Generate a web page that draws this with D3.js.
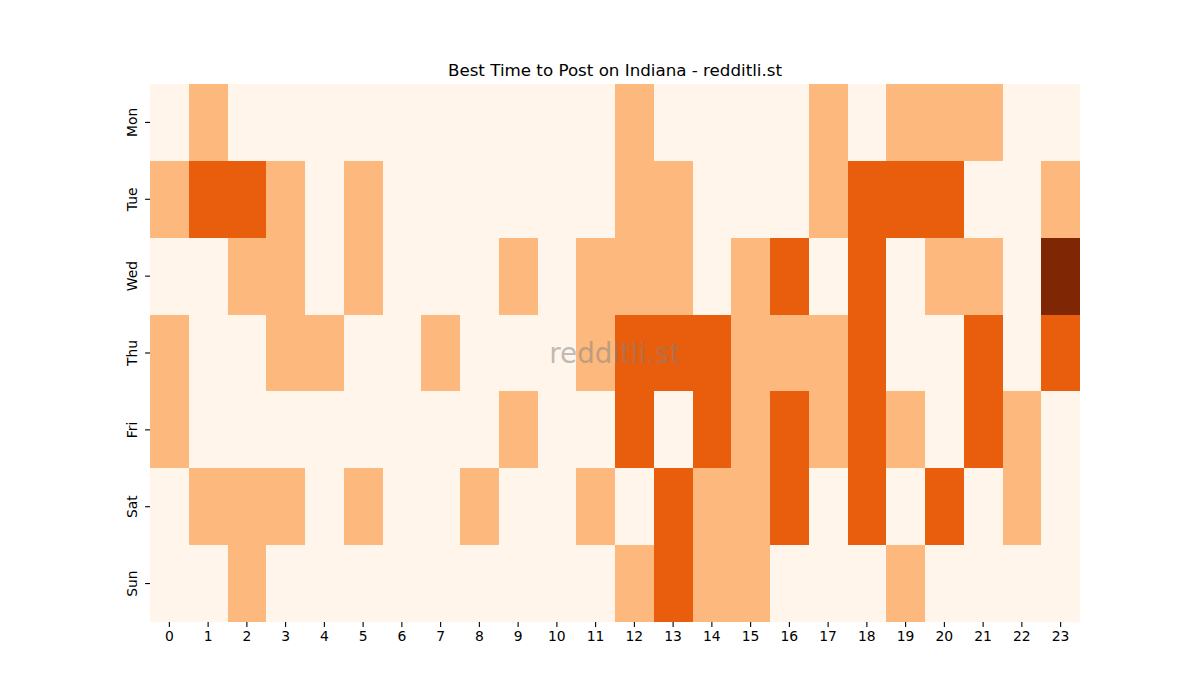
<!DOCTYPE html>
<html>
<head>
<meta charset="utf-8">
<script src="https://cdn.jsdelivr.net/npm/d3@7"></script>
<style>
  body { margin: 0; background: #fff; }
  text { font-family: "DejaVu Sans", sans-serif; }
</style>
</head>
<body>
<div id="chart"></div>
<script>
var days = ['Mon', 'Tue', 'Wed', 'Thu', 'Fri', 'Sat', 'Sun'];
var hours = d3.range(24);

// one row per day, one value per hour (0..3)
var mon = [0,1,0,0,0,0,0,0,0,0,0,0,1,0,0,0,0,1,0,1,1,1,0,0];
var tue = [1,2,2,1,0,1,0,0,0,0,0,0,1,1,0,0,0,1,2,2,2,0,0,1];
var wed = [0,0,1,1,0,1,0,0,0,1,0,1,1,1,0,1,2,0,2,0,1,1,0,3];
var thu = [1,0,0,1,1,0,0,1,0,0,0,1,2,2,2,1,1,1,2,0,0,2,0,2];
var fri = [1,0,0,0,0,0,0,0,0,1,0,0,2,0,2,1,2,1,2,1,0,2,1,0];
var sat = [0,1,1,1,0,1,0,0,1,0,0,1,0,2,1,1,2,0,2,0,2,0,1,0];
var sun = [0,0,1,0,0,0,0,0,0,0,0,0,1,2,1,1,0,0,0,1,0,0,0,0];
var rows = [mon, tue, wed, thu, fri, sat, sun];

var margin = { top: 84, right: 120, bottom: 78, left: 150 },
  width = 1200 - margin.left - margin.right,
  height = 700 - margin.top - margin.bottom;

var svg = d3.select('#chart').append('svg').attr('width', 1200).attr('height', 700);
var g = svg.append('g').attr('transform', 'translate(' + margin.left + ',' + margin.top + ')');

var x = d3.scaleBand().domain(hours).range([0, width]);
var y = d3.scaleBand().domain(days).range([0, height]);

// matplotlib "Oranges"
var orangeStops = ['#fff5eb', '#fee6ce', '#fdd0a2', '#fdae6b', '#fd8d3c', '#f16913', '#d94801', '#a63603', '#7f2704'];
var maxVal = d3.max(rows, function (r) { return d3.max(r); });
var color = d3.scaleLinear()
  .domain(orangeStops.map(function (c, i) { return maxVal * i / (orangeStops.length - 1); }))
  .range(orangeStops)
  .interpolate(d3.interpolateRgb);

var cells = [];
rows.forEach(function (r, i) {
  r.forEach(function (v, h) { cells.push({ day: days[i], hour: h, value: v }); });
});

g.selectAll('rect.cell')
  .data(cells)
  .enter()
  .append('rect')
  .attr('class', 'cell')
  .attr('x', function (d) { return x(d.hour); })
  .attr('y', function (d) { return y(d.day); })
  .attr('width', x.bandwidth())
  .attr('height', y.bandwidth())
  .attr('shape-rendering', 'crispEdges')
  .attr('fill', function (d) { return color(d.value); });

var xAxis = g.append('g')
  .attr('transform', 'translate(0,' + height + ')')
  .call(d3.axisBottom(x).tickSize(4.9).tickPadding(4.5));
xAxis.select('.domain').remove();
xAxis.selectAll('text').style('font-size', '13.9px').attr('fill', '#000');
xAxis.selectAll('line').attr('stroke', '#000').attr('stroke-width', 1.1);

var yAxis = g.append('g')
  .call(d3.axisLeft(y).tickSize(4.9).tickPadding(4.5));
yAxis.select('.domain').remove();
yAxis.selectAll('line').attr('stroke', '#000').attr('stroke-width', 1.1);
yAxis.selectAll('text')
  .style('font-size', '13.9px')
  .attr('fill', '#000')
  .attr('x', null)
  .attr('dy', null)
  .attr('text-anchor', 'middle')
  .attr('transform', 'translate(-13,0) rotate(-90)');

svg.append('text')
  .attr('x', margin.left + width / 2)
  .attr('y', 76)
  .attr('text-anchor', 'middle')
  .style('font-size', '16.7px')
  .text('Best Time to Post on Indiana - redditli.st');

// watermark
svg.append('text')
  .attr('x', margin.left + width / 2)
  .attr('y', margin.top + height / 2)
  .attr('text-anchor', 'middle')
  .attr('dominant-baseline', 'central')
  .attr('fill', '#808080')
  .attr('fill-opacity', 0.5)
  .style('font-size', '27.8px')
  .text('redditli.st');
</script>
</body>
</html>
